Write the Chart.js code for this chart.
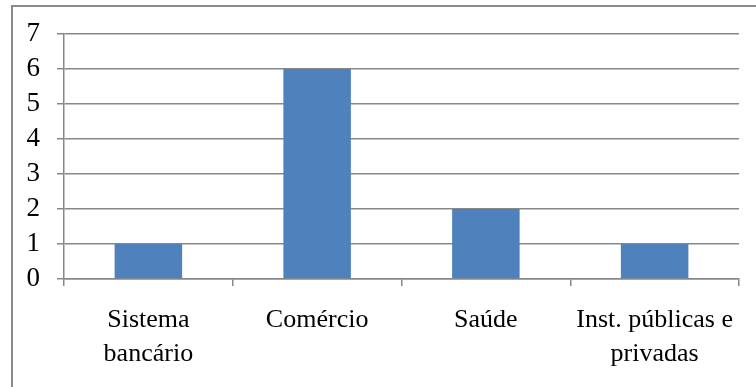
<!DOCTYPE html>
<html>
<head>
<meta charset="utf-8">
<script src="https://cdn.jsdelivr.net/npm/chart.js@4.4.1/dist/chart.umd.min.js"></script>
<style>
    html, body { margin: 0; padding: 0; background: #fff; overflow: hidden; }
    #wrap { position: relative; width: 756px; height: 387px; }
    #frame {
        position: absolute; left: 11px; top: 5px; width: 800px; height: 500px;
        border-left: 2px solid #8a8a8a; border-top: 2px solid #8a8a8a;
    }
    #chart { position: absolute; left: 0; top: 0; }
</style>
</head>
<body>
<div id="wrap">
    <div id="frame"></div>
    <canvas id="chart" width="756" height="387"></canvas>
</div>
<script>
const sectors = [['Sistema', 'bancário'], 'Comércio', 'Saúde', ['Inst. públicas e', 'privadas']];
const counts = [1, 6, 2, 1];
const yMin = 0;
const yMax = 7;
const yStep = 1;

const gridGray = '#888888';
const serif = "'Liberation Serif', 'Times New Roman', serif";

new Chart(document.getElementById('chart').getContext('2d'), {
    type: 'bar',
    data: {
        labels: sectors,
        datasets: [{
            data: counts,
            backgroundColor: '#4f81bd',
            categoryPercentage: 1,
            barPercentage: 0.4
        }]
    },
    options: {
        responsive: false,
        devicePixelRatio: 1,
        animation: false,
        layout: { padding: { top: 34, left: 0, right: 17, bottom: 0 } },
        plugins: { legend: { display: false }, tooltip: { enabled: false } },
        scales: {
            x: {
                afterFit: s => { s.height = 108; },
                grid: { drawOnChartArea: false, drawTicks: true, tickLength: 7, color: gridGray, lineWidth: 1.5 },
                border: { color: gridGray, width: 1.5 },
                ticks: {
                    color: '#000',
                    padding: 17,
                    maxRotation: 0,
                    autoSkip: false,
                    font: { family: serif, size: 26, lineHeight: 1.3 }
                }
            },
            y: {
                min: yMin,
                max: yMax,
                afterFit: s => { s.width = 64; },
                grid: { color: gridGray, lineWidth: 1.5, tickLength: 7 },
                border: { color: gridGray, width: 1.5 },
                ticks: {
                    stepSize: yStep,
                    autoSkip: false,
                    color: '#000',
                    padding: 17,
                    font: { family: serif, size: 27 }
                }
            }
        }
    }
});
</script>
</body>
</html>
